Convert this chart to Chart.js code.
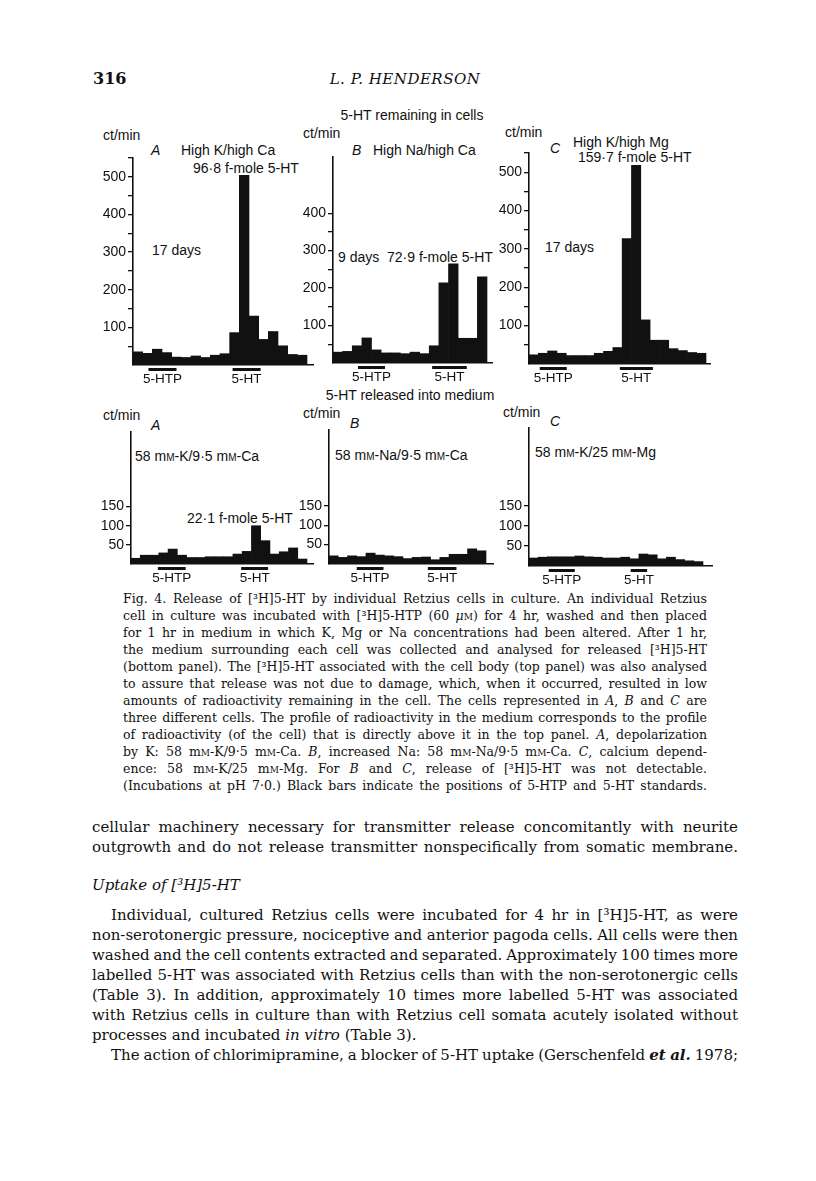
<!DOCTYPE html>
<html>
<head>
<meta charset="utf-8">
<script src="https://cdn.jsdelivr.net/npm/chart.js@4/dist/chart.umd.min.js"></script>
<style>
body { margin:0; background:#fff; width:816px; height:1181px; position:relative; overflow:hidden; }
.t { position:absolute; font-family:"Liberation Sans", Arial, sans-serif; font-size:14px; line-height:14px; color:#111; white-space:nowrap; }
.s { position:absolute; font-family:"DejaVu Serif", "Liberation Serif", serif; color:#111; white-space:nowrap; }
.cap { font-size:12.5px; line-height:16px; }
.bd { font-size:15px; line-height:18px; }
.i { font-style:italic; }
.sc { font-variant:small-caps; }
.ctr { transform:translateX(-50%); }
canvas { position:absolute; }
</style>
</head>
<body>

<div class="s" style="left:93px;top:71px;font-size:16px;line-height:16px;font-weight:bold">316</div>
<div class="s i ctr" style="left:405px;top:71px;font-size:15px;line-height:16px;letter-spacing:0.5px">L. P. HENDERSON</div>

<div class="t ctr" style="left:412px;top:108px">5-HT remaining in cells</div>

<div class="t" style="left:103px;top:128px">ct/min</div>
<div class="t i" style="left:151px;top:143px">A</div>
<div class="t" style="left:181px;top:143px">High K/high Ca</div>
<div class="t" style="left:193px;top:161px">96·8 f-mole 5-HT</div>
<div class="t" style="left:152px;top:243px">17 days</div>

<div class="t" style="left:303px;top:126px">ct/min</div>
<div class="t i" style="left:352px;top:143px">B</div>
<div class="t" style="left:373px;top:143px">High Na/high Ca</div>
<div class="t" style="left:338px;top:250px">9 days&nbsp; 72·9 f-mole 5-HT</div>

<div class="t" style="left:505px;top:125px">ct/min</div>
<div class="t i" style="left:550px;top:141px">C</div>
<div class="t" style="left:573px;top:135px">High K/high Mg</div>
<div class="t" style="left:578px;top:150px">159·7 f-mole 5-HT</div>
<div class="t" style="left:545px;top:240px">17 days</div>

<div class="t ctr" style="left:410px;top:388px">5-HT released into medium</div>

<div class="t" style="left:103px;top:408px">ct/min</div>
<div class="t i" style="left:151px;top:418px">A</div>
<div class="t" style="left:135px;top:449px">58 m<span class="sc">m</span>-K/9·5 m<span class="sc">m</span>-Ca</div>
<div class="t" style="left:187px;top:511px">22·1 f-mole 5-HT</div>

<div class="t" style="left:303px;top:406px">ct/min</div>
<div class="t i" style="left:350px;top:416px">B</div>
<div class="t" style="left:335px;top:448px">58 m<span class="sc">m</span>-Na/9·5 m<span class="sc">m</span>-Ca</div>

<div class="t" style="left:503px;top:405px">ct/min</div>
<div class="t i" style="left:550px;top:414px">C</div>
<div class="t" style="left:535px;top:445px">58 m<span class="sc">m</span>-K/25 m<span class="sc">m</span>-Mg</div>

<!-- legend text -->
<div class="s cap j" data-w="584" style="left:123px;top:591px">Fig. 4. Release of [³H]5-HT by individual Retzius cells in culture. An individual Retzius</div>
<div class="s cap j" data-w="584" style="left:123px;top:608px">cell in culture was incubated with [³H]5-HTP (60 <span class="i">μ</span><span class="sc">m</span>) for 4 hr, washed and then placed</div>
<div class="s cap j" data-w="584" style="left:123px;top:625px">for 1 hr in medium in which K, Mg or Na concentrations had been altered. After 1 hr,</div>
<div class="s cap j" data-w="584" style="left:123px;top:642px">the medium surrounding each cell was collected and analysed for released [³H]5-HT</div>
<div class="s cap j" data-w="584" style="left:123px;top:659px">(bottom panel). The [³H]5-HT associated with the cell body (top panel) was also analysed</div>
<div class="s cap j" data-w="584" style="left:123px;top:676px">to assure that release was not due to damage, which, when it occurred, resulted in low</div>
<div class="s cap j" data-w="584" style="left:123px;top:693px">amounts of radioactivity remaining in the cell. The cells represented in <span class="i">A</span>, <span class="i">B</span> and <span class="i">C</span> are</div>
<div class="s cap j" data-w="584" style="left:123px;top:710px">three different cells. The profile of radioactivity in the medium corresponds to the profile</div>
<div class="s cap j" data-w="584" style="left:123px;top:727px">of radioactivity (of the cell) that is directly above it in the top panel. <span class="i">A</span>, depolarization</div>
<div class="s cap j" data-w="584" style="left:123px;top:744px">by K: 58 m<span class="sc">m</span>-K/9·5 m<span class="sc">m</span>-Ca. <span class="i">B</span>, increased Na: 58 m<span class="sc">m</span>-Na/9·5 m<span class="sc">m</span>-Ca. <span class="i">C</span>, calcium depend-</div>
<div class="s cap j" data-w="584" style="left:123px;top:761px">ence: 58 m<span class="sc">m</span>-K/25 m<span class="sc">m</span>-Mg. For <span class="i">B</span> and <span class="i">C</span>, release of [³H]5-HT was not detectable.</div>
<div class="s cap j" data-w="584" style="left:123px;top:778px">(Incubations at pH 7·0.) Black bars indicate the positions of 5-HTP and 5-HT standards.</div>

<!-- body text -->
<div class="s bd j" data-w="646" style="left:92px;top:818px">cellular machinery necessary for transmitter release concomitantly with neurite</div>
<div class="s bd j" data-w="646" style="left:92px;top:838px">outgrowth and do not release transmitter nonspecifically from somatic membrane.</div>
<div class="s bd i" style="left:92px;top:876px">Uptake of [³H]5-HT</div>
<div class="s bd j" data-w="627" style="left:111px;top:906px">Individual, cultured Retzius cells were incubated for 4 hr in [³H]5-HT, as were</div>
<div class="s bd j" data-w="646" style="left:92px;top:926px">non-serotonergic pressure, nociceptive and anterior pagoda cells. All cells were then</div>
<div class="s bd j" data-w="646" style="left:92px;top:946px">washed and the cell contents extracted and separated. Approximately 100 times more</div>
<div class="s bd j" data-w="646" style="left:92px;top:966px">labelled 5-HT was associated with Retzius cells than with the non-serotonergic cells</div>
<div class="s bd j" data-w="646" style="left:92px;top:986px">(Table 3). In addition, approximately 10 times more labelled 5-HT was associated</div>
<div class="s bd j" data-w="646" style="left:92px;top:1006px">with Retzius cells in culture than with Retzius cell somata acutely isolated without</div>
<div class="s bd" style="left:92px;top:1026px">processes and incubated <span class="i">in vitro</span> (Table 3).</div>
<div class="s bd j" data-w="627" style="left:111px;top:1046px">The action of chlorimipramine, a blocker of 5-HT uptake (Gerschenfeld <b class="i">et al.</b> 1978;</div>

<script>
// ct/min per fraction, 5-HT remaining in cells (top row)
const fracTopA = [1,2,3,4,5,6,7,8,9,10,11,12,13,14,15,16,17,18];
const cellsA = [35,31,42,33,21,20,24,20,26,30,86,504,130,68,89,51,28,26];
const fracTopB = [1,2,3,4,5,6,7,8,9,10,11,12,13,14,15,16];
const cellsB = [29,31,46,67,35,27,27,25,29,25,46,214,265,66,66,230];
const fracTopC = [1,2,3,4,5,6,7,8,9,10,11,12,13,14,15,16,17,18,19];
const cellsC = [24,28,34,28,22,22,22,28,33,43,327,518,115,62,62,40,35,30,28];

// ct/min per fraction, 5-HT released into medium (bottom row)
const fracBotA = [1,2,3,4,5,6,7,8,9,10,11,12,13,14,15,16,17,18,19];
const mediumA = [15,23,23,29,39,23,17,17,19,19,19,26,33,100,61,26,32,42,13];
const fracBotB = [1,2,3,4,5,6,7,8,9,10,11,12,13,14,15,16,17];
const mediumB = [21,17,21,19,28,23,21,19,14,17,18,11,17,25,25,39,34];
const fracBotC = [1,2,3,4,5,6,7,8,9,10,11,12,13,14,15,16,17,18,19];
const mediumC = [20,22,23,23,23,25,23,22,20,20,22,18,30,28,18,22,16,13,11];

// y ticks
const ticksTopAC = [50,100,150,200,250,300,350,400,450,500,550];
const ticksTopB = [50,100,150,200,250,300,350,400];
const labelsTop = [100,200,300,400,500];
const ticksBot = [50,100,150];
const labelsBot = [50,100,150];

// standards (fraction index, start/end)
const stdNames = ['5-HTP', '5-HT'];
const stdTopA = [[1.1, 4.0], [9.8, 12.7]];
const stdTopB = [[2.1, 4.9], [9.8, 13.4]];
const stdTopC = [[0.65, 3.55], [9.25, 12.8]];
const stdBotA = [[2.4, 5.4], [11.4, 14.3]];
const stdBotB = [[2.5, 5.4], [10.2, 13.3]];
const stdBotC = [[1.65, 4.5], [10.6, 12.4]];

const INK = '#111';
const YW = 45;

// justify text lines
document.querySelectorAll('.j').forEach(el => {
  const target = +el.dataset.w;
  const w = el.getBoundingClientRect().width;
  const n = (el.textContent.match(/ /g) || []).length;
  if (n) el.style.wordSpacing = ((target - w) / n) + 'px';
});

const standards = {
  id: 'standards',
  afterDraw(chart, args, opts) {
    const x = chart.scales.x, ctx = chart.ctx, base = chart.chartArea.bottom;
    ctx.save();
    ctx.fillStyle = INK;
    ctx.font = '13.5px "Liberation Sans", Arial, sans-serif';
    ctx.textAlign = 'center';
    ctx.textBaseline = 'middle';
    opts.ranges.forEach((r, i) => {
      const x0 = x.getPixelForValue(r[0]), x1 = x.getPixelForValue(r[1]);
      ctx.fillRect(x0, base + 3, x1 - x0, 3);
      ctx.fillText(stdNames[i], (x0 + x1) / 2, base + 14);
    });
    ctx.restore();
  }
};

function crearPanel(frac, vals, ticks, labeled, ymax, stds, pos) {
  const c = document.createElement('canvas');
  const w = YW + (pos.lineEnd - pos.axisX) + 2;
  const h = 4 + (pos.base - pos.top) + 24;
  c.width = w; c.height = h;
  c.style.left = (pos.axisX - YW) + 'px';
  c.style.top = (pos.top - 4) + 'px';
  c.style.width = w + 'px'; c.style.height = h + 'px';
  document.body.appendChild(c);
  const n = frac.length;
  const xmax = -0.5 + n * (pos.lineEnd - pos.axisX) / (pos.barsEnd - pos.axisX);
  new Chart(c, {
    type: 'bar',
    data: {
      datasets: [{
        data: vals.map((v, i) => ({ x: i, y: v })),
        backgroundColor: INK,
        borderWidth: 0,
        barPercentage: 1,
        categoryPercentage: 1
      }]
    },
    options: {
      responsive: false,
      animation: false,
      devicePixelRatio: 1,
      layout: { padding: { top: 4, bottom: 24, left: 0, right: 2 } },
      plugins: { legend: { display: false }, tooltip: { enabled: false }, standards: { ranges: stds } },
      scales: {
        x: {
          type: 'linear', min: -0.5, max: xmax, offset: false,
          ticks: { display: false },
          grid: { display: false },
          border: { display: true, color: INK, width: 1.5 },
          afterFit: s => { s.height = 0; s.paddingLeft = 0; s.paddingRight = 0; }
        },
        y: {
          min: 0, max: ymax,
          afterBuildTicks: s => { s.ticks = ticks.map(v => ({ value: v })); },
          ticks: {
            autoSkip: false, padding: 2, color: INK,
            font: { family: '"Liberation Sans", Arial, sans-serif', size: 14 },
            callback: v => labeled.includes(v) ? String(v) : ''
          },
          grid: { drawOnChartArea: false, tickLength: 5, color: INK, lineWidth: 1.3 },
          border: { display: true, color: INK, width: 1.6 },
          afterFit: s => { s.width = YW; s.paddingTop = 0; s.paddingBottom = 0; }
        }
      }
    },
    plugins: [standards]
  });
}

crearPanel(fracTopA, cellsA, ticksTopAC, labelsTop, 550, stdTopA, { axisX: 133, top: 158, base: 365, barsEnd: 307, lineEnd: 313 });
crearPanel(fracTopB, cellsB, ticksTopB, labelsTop, 550, stdTopB, { axisX: 333, top: 157, base: 363, barsEnd: 487, lineEnd: 492 });
crearPanel(fracTopC, cellsC, ticksTopAC, labelsTop, 550, stdTopC, { axisX: 529, top: 153, base: 364, barsEnd: 706, lineEnd: 710 });
crearPanel(fracBotA, mediumA, ticksBot, labelsBot, 345, stdBotA, { axisX: 131, top: 432, base: 564, barsEnd: 307, lineEnd: 313 });
crearPanel(fracBotB, mediumB, ticksBot, labelsBot, 345, stdBotB, { axisX: 329, top: 430, base: 564, barsEnd: 486, lineEnd: 493 });
crearPanel(fracBotC, mediumC, ticksBot, labelsBot, 345, stdBotC, { axisX: 529, top: 428, base: 566, barsEnd: 703, lineEnd: 712 });
</script>
</body>
</html>
